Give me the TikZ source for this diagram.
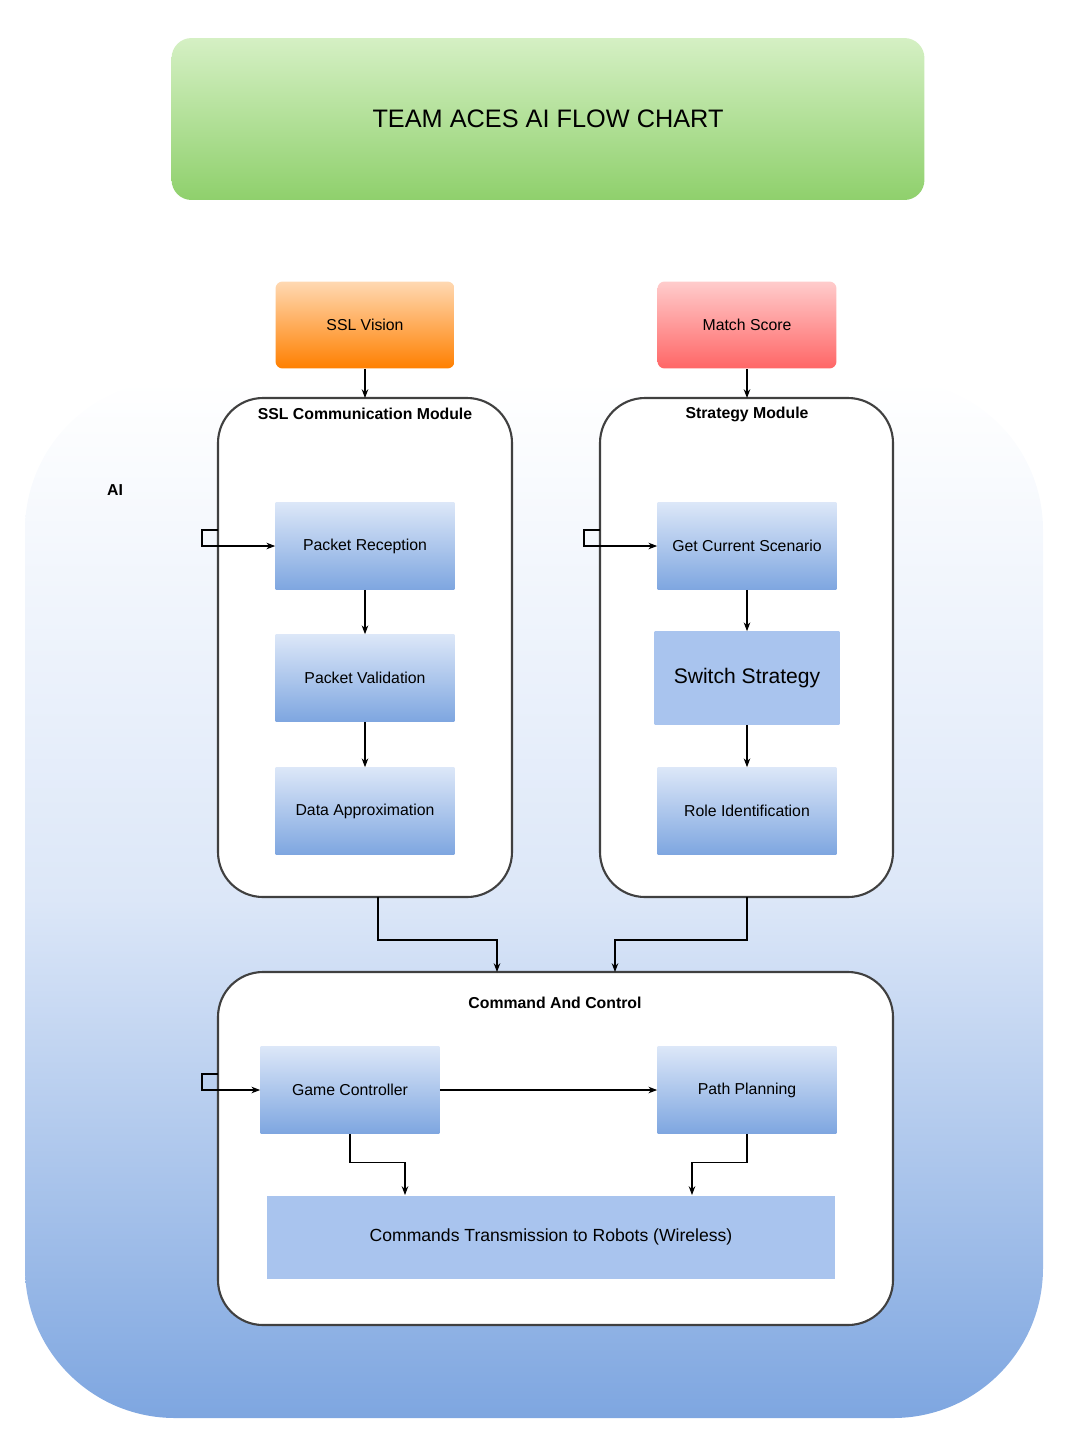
\documentclass[tikz,border=0pt]{standalone}
\usepackage{fontspec}
\setmainfont{Liberation Sans}
\usetikzlibrary{arrows.meta}
\definecolor{boxtop}{HTML}{DCE7F8}
\definecolor{boxbot}{HTML}{7EA6E0}
\definecolor{flatblue}{HTML}{A9C4EE}
\definecolor{greentop}{HTML}{D5F0C4}
\definecolor{greenbot}{HTML}{8FD06C}
\tikzset{
  procbox/.style={minimum width=3.58cm, minimum height=1.74cm, top color=boxtop, bottom color=boxbot, font=\small},
  modbox/.style={draw=black!75, line width=1.2pt, rounded corners=0.9cm, fill=white},
  modtitle/.style={font=\small\bfseries},
  flow/.style={-{Stealth[length=5pt]}, line width=0.6pt}
}
\begin{document}
\begin{tikzpicture}[x=0.02cm, y=-0.02cm]
    \useasboundingbox (0,0) rectangle (1067,1444);
    % title
    \node[rounded corners=0.4cm, top color=greentop, bottom color=greenbot, minimum width=15.06cm, minimum height=3.24cm, font=\Large] (title) at (548,119) {TEAM ACES AI FLOW CHART};
    % AI region
    \shade[rounded corners=3cm, top color=white, bottom color=boxbot, middle color=boxtop] (25,380) rectangle (1043,1418);
    \node[font=\small\bfseries] (ai) at (115,490) {AI};
    % inputs
    \node[procbox, top color=orange!30, bottom color=orange, rounded corners=4pt] (vision) at (365,325) {SSL Vision};
    \node[procbox, top color=red!20, bottom color=red!60, rounded corners=4pt] (score) at (747,325) {Match Score};
    % modules
    \draw[modbox] (218,398) rectangle (512,897);
    \draw[modbox] (600,398) rectangle (893,897);
    \draw[modbox] (218,972) rectangle (893,1325);
    \coordinate (commtop) at (365,398);
    \coordinate (stratop) at (747,398);
    \node[modtitle] (commt) at (365,414) {SSL Communication Module};
    \node[modtitle] (strat) at (747,414) {Strategy Module};
    \node[modtitle] (cact) at (555,1003) {Command And Control};
    % processes
    \node[procbox] (recv) at (365,546) {Packet Reception};
    \node[procbox] (valid) at (365,678) {Packet Validation};
    \node[procbox] (approx) at (365,811) {Data Approximation};
    \node[procbox] (scen) at (747,546) {Get Current Scenario};
    \node[procbox, fill=flatblue, top color=flatblue, bottom color=flatblue, minimum width=3.7cm, minimum height=1.86cm, font=\large] (switch) at (747,678) {Switch Strategy};
    \node[procbox] (role) at (747,811) {Role Identification};
    \node[procbox] (game) at (350,1090) {Game Controller};
    \node[procbox] (path) at (747,1090) {Path Planning};
    \node[fill=flatblue, minimum width=11.36cm, minimum height=1.66cm] (trans) at (551,1237) {Commands Transmission to Robots (Wireless)};
    % connectors
    \draw[flow] (vision) -- (commtop);
    \draw[flow] (score) -- (stratop);
    \draw[flow] (recv) -- (valid);
    \draw[flow] (valid) -- (approx);
    \draw[flow] (scen) -- (switch);
    \draw[flow] (switch) -- (role);
    \draw[flow] (218,530) -- (202,530) -- (202,546) -- (recv.west);
    \draw[flow] (600,530) -- (584,530) -- (584,546) -- (scen.west);
    \draw[flow] (218,1074) -- (202,1074) -- (202,1090) -- (game.west);
    \draw[flow] (378,897) -- (378,940) -- (497,940) -- (497,972);
    \draw[flow] (747,897) -- (747,940) -- (615,940) -- (615,972);
    \draw[flow] (game) -- (path);
    \draw[flow] (game.south) -- ++(0,29) -| (405,1195);
    \draw[flow] (path.south) -- ++(0,29) -| (692,1195);
\end{tikzpicture}
\end{document}
